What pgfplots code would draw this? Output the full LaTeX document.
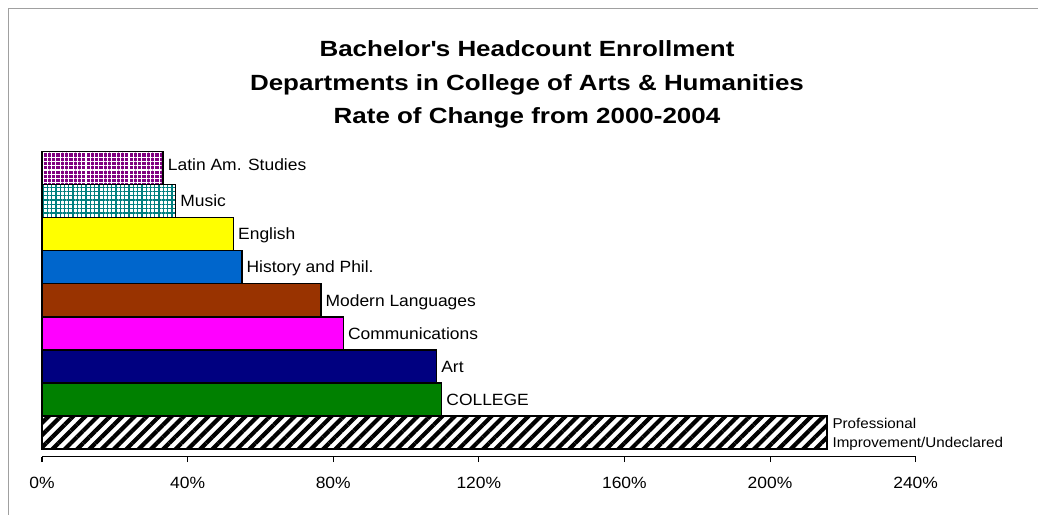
\documentclass[border=0pt]{standalone}
\usepackage{pgfplots}
\pgfplotsset{compat=1.18}
\usepackage{fontspec}
\setmainfont[FakeStretch=1.07]{Liberation Sans}
\newfontfamily\titlefont[FakeStretch=1.18]{Liberation Sans}
\usetikzlibrary{patterns.meta}
\definecolor{clatin}{HTML}{800080}
\definecolor{cmusic}{HTML}{008080}
\definecolor{cenglish}{HTML}{FFFF00}
\definecolor{chist}{HTML}{0066CC}
\definecolor{cmodern}{HTML}{993300}
\definecolor{ccomm}{HTML}{FF00FF}
\definecolor{cart}{HTML}{000080}
\definecolor{ccollege}{HTML}{008000}
\definecolor{frame}{HTML}{A0A0A0}
\begin{document}
\begin{tikzpicture}[x=1pt,y=1pt]
\useasboundingbox (0,0) rectangle (1038,514);
\draw[frame, line width=1.5pt] (8.3,-2) -- (8.3,505.7) -- (1040,505.7);
\begin{scope}[every node/.style={anchor=base, font=\titlefont\bfseries\fontsize{22}{26}\selectfont}]
\node at (527,457) {Bachelor\textquotesingle s Headcount Enrollment};
\node at (527,423.3) {Departments in College of Arts \& Humanities};
\node at (527,390.5) {Rate of Change from 2000-2004};
\end{scope}
\begin{axis}[
  at={(42pt,57.3pt)}, anchor=south west,
  scale only axis, width=873.6pt, height=313.5pt,
  xmin=0, xmax=240, ymin=-0.733, ymax=8.75,
  axis x line*=bottom, axis y line=none,
  x axis line style={black, line width=1pt},
  xtick={0,40,...,240},
  xticklabels={0\%,40\%,80\%,120\%,160\%,200\%,240\%},
  xtick align=outside, major tick length=5.5pt,
  tick style={black, line width=1pt},
  ticklabel style={font=\fontsize{16.3}{19}\selectfont},
  xticklabel style={yshift=-11pt},
  xbar, bar width=33pt, bar shift=0pt, clip=false,
  every axis plot/.append style={draw=black, line width=1.5pt},
  nodes near coords style={anchor=base west, inner xsep=4pt, yshift=-5.8pt, text=black,
     font=\fontsize{16.3}{19}\selectfont},
]
\addplot[preaction={fill=white}, pattern={Lines[angle=45,distance=8.7pt,line width=4.2pt]}, pattern color=black,
  nodes near coords={Professional\\Improvement/Undeclared},
  nodes near coords style={anchor=west, align=left, inner xsep=5pt, yshift=4pt, font=\fontsize{14.2}{19}\selectfont}]
  coordinates {(215.6,0)};
\addplot[fill=ccollege, nodes near coords={COLLEGE}] coordinates {(109.8,1)};
\addplot[fill=cart, nodes near coords={Art}] coordinates {(108.4,2)};
\addplot[fill=ccomm, nodes near coords={Communications}] coordinates {(82.8,3)};
\addplot[fill=cmodern, nodes near coords={Modern Languages}] coordinates {(76.6,4)};
\addplot[fill=chist, nodes near coords={History and Phil.}] coordinates {(54.9,5)};
\addplot[fill=cenglish, nodes near coords={English}] coordinates {(52.6,6)};
\addplot[preaction={fill=white}, pattern={Hatch[angle=0,distance=4.3pt,line width=1.3pt]}, pattern color=cmusic,
  nodes near coords={Music}] coordinates {(36.7,7)};
\addplot[preaction={fill=clatin}, pattern={Hatch[angle=0,distance=4.3pt,line width=1.1pt]}, pattern color=white,
  nodes near coords={Latin Am. Studies}, nodes near coords style={yshift=3.5pt}] coordinates {(33.3,8)};
\end{axis}
\end{tikzpicture}
\end{document}
